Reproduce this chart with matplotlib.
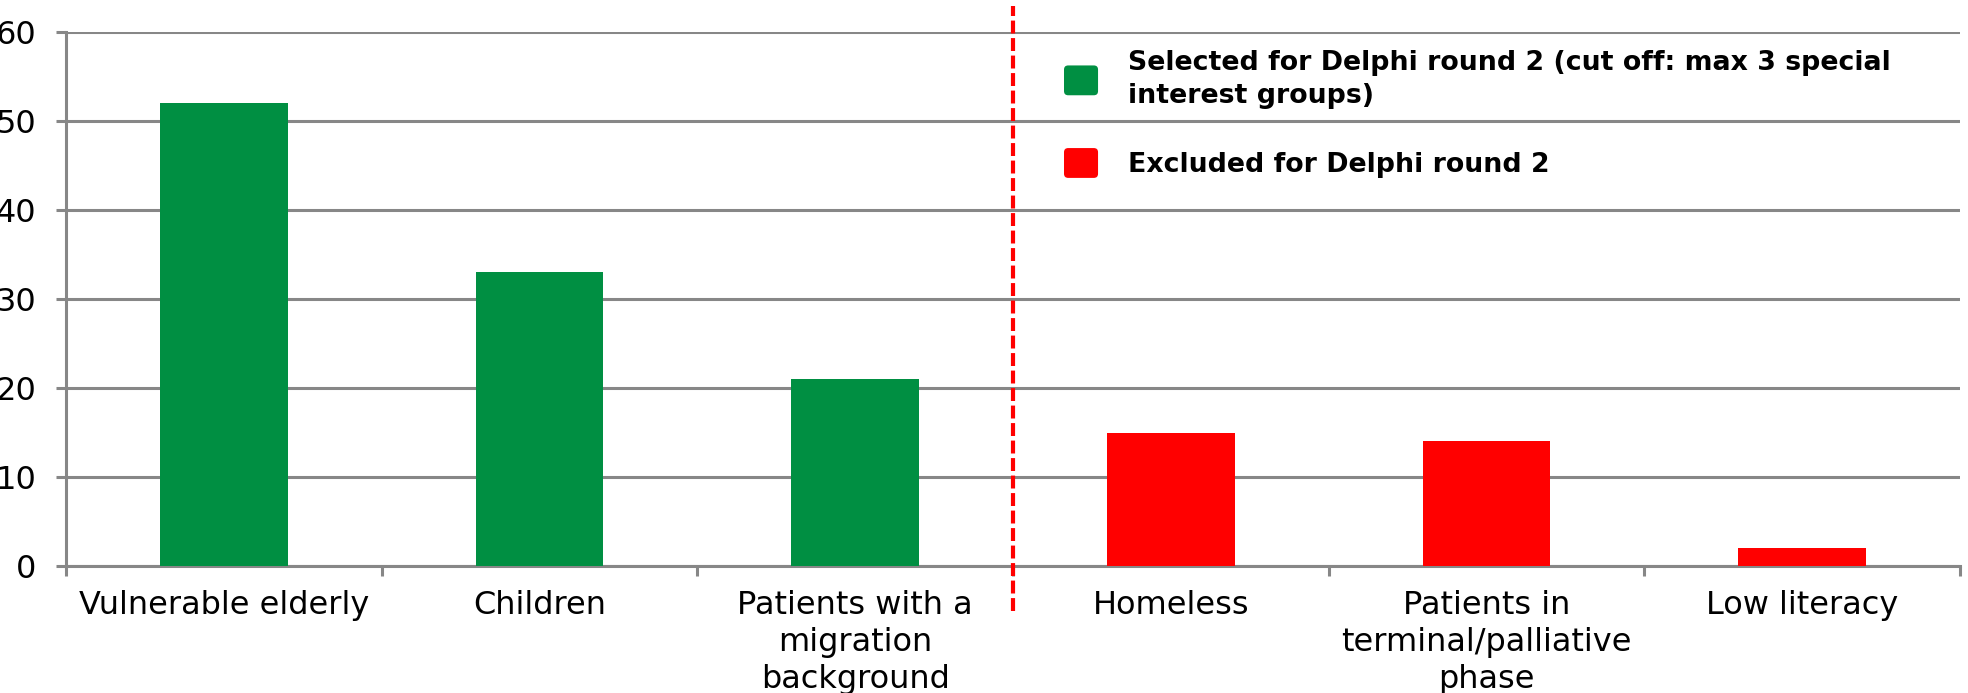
import matplotlib
matplotlib.use("Agg")
import matplotlib.pyplot as plt
from matplotlib.patches import Patch, FancyBboxPatch
from matplotlib.legend_handler import HandlerBase

categories = ["Vulnerable elderly", "Children", "Patients with a\nmigration\nbackground",
              "Homeless", "Patients in\nterminal/palliative\nphase", "Low literacy"]
values = [52, 33, 21, 15, 14, 2]
selected = [True, True, True, False, False, False]
legend_labels = ["Selected for Delphi round 2 (cut off: max 3 special\ninterest groups)",
                 "Excluded for Delphi round 2"]
yticks = [0, 10, 20, 30, 40, 50, 60]

GREEN = "#008f42"
RED = "#ff0000"
GRAY = "#878787"

plt.rcParams['font.family'] = ['DejaVu Sans']

fig = plt.figure(figsize=(19.68, 6.93), dpi=100)
ax = fig.add_axes([66/1968, 1-566/693, 1894/1968, 534/693])

x = list(range(len(categories)))
colors = [GREEN if s else RED for s in selected]
ax.bar(x, values, width=0.405, color=colors, zorder=3)

ax.set_xlim(-0.5, len(categories) - 0.5)
ax.set_ylim(0, 60)
ax.set_yticks(yticks)
ax.set_yticklabels([str(t) for t in yticks], fontsize=23)
ax.yaxis.grid(True, color=GRAY, linewidth=2.2, zorder=0)
ax.set_axisbelow(True)
ax.tick_params(axis='y', length=7.5, width=2.2, color=GRAY, pad=14)

ax.set_xticks(x)
ax.set_xticklabels(categories, fontsize=23, linespacing=1.25)
ax.tick_params(axis='x', which='major', length=0, pad=17)
ax.set_xticks([i - 0.5 for i in range(len(categories) + 1)], minor=True)
ax.tick_params(axis='x', which='minor', length=7, width=2.2, color=GRAY)

for s in ['top', 'right']:
    ax.spines[s].set_visible(False)
for s in ['left', 'bottom']:
    ax.spines[s].set_color(GRAY)
    ax.spines[s].set_linewidth(2.2)

# divider between selected and excluded groups
ax.plot([2.5, 2.5], [-5.0, 62.9], color=RED, linewidth=3, dashes=(3.1, 1.1),
        clip_on=False, zorder=4)


class RoundBox(HandlerBase):
    def create_artists(self, legend, orig_handle, xdescent, ydescent, width, height,
                       fontsize, trans):
        r = 3
        h = height * 1.2
        y0 = -ydescent - (h - height) / 2
        p = FancyBboxPatch((-xdescent + r, y0 + r), width - 2 * r, h - 2 * r,
                           boxstyle=f"round,pad={r}", facecolor=orig_handle.get_facecolor(),
                           edgecolor='none', transform=trans)
        return [p]


handles = [Patch(facecolor=GREEN), Patch(facecolor=RED)]
leg = ax.legend(handles, legend_labels, loc='upper left',
                bbox_to_anchor=(1064/1968, 1-50/693), bbox_transform=fig.transFigure,
                frameon=False, borderpad=0, borderaxespad=0,
                prop={'weight': 'bold', 'size': 19.3},
                handlelength=1.27, handleheight=1.05, handletextpad=1.1,
                labelspacing=1.55, handler_map={Patch: RoundBox()})
for t in leg.get_texts():
    t.set_linespacing(1.35)

fig.savefig("out.png", dpi=100)
